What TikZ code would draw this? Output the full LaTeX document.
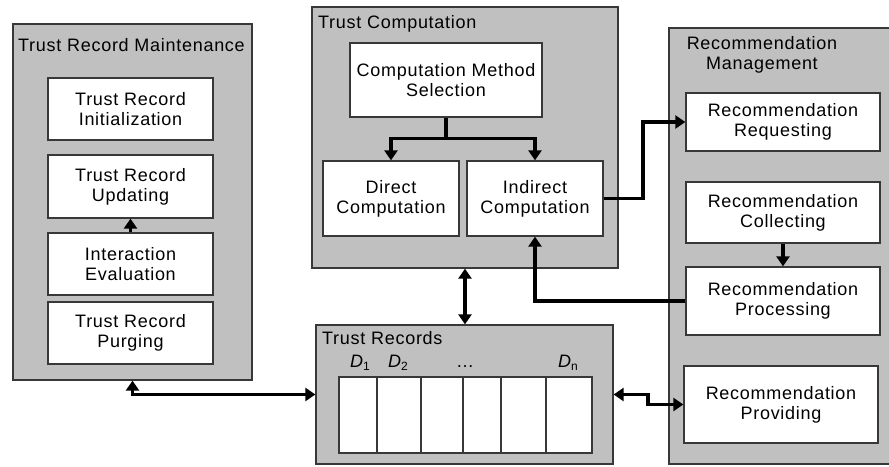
\documentclass[tikz,border=0pt]{standalone}
\usepackage{fontspec}
\setmainfont[LetterSpace=4]{Liberation Sans}
\usetikzlibrary{arrows.meta,calc}
\definecolor{panelgray}{HTML}{C0C0C0}
\definecolor{edgegray}{HTML}{383838}
\tikzset{
  panel/.style={draw=edgegray, fill=panelgray, line width=1.3pt, minimum width=#1, inner sep=0pt},
  inbox/.style={draw=edgegray, fill=white, line width=1.3pt, align=center, inner sep=0pt},
  ttl/.style={inner sep=0pt, anchor=base west},
  conn/.style={line width=3.4pt, line cap=butt, line join=miter},
  tip/.style={-{Triangle[length=10pt,width=13pt]}},
  dtip/.style={{Triangle[length=10pt,width=13pt]}-{Triangle[length=10pt,width=13pt]}},
  dlab/.style={inner sep=0pt, anchor=base},
}
\newcommand{\dsym}[1]{{\itshape D}\raisebox{-3pt}{\fontsize{12}{12}\selectfont #1}}
\begin{document}
\begin{tikzpicture}[x=1pt,y=-1pt, font=\fontsize{18}{20}\selectfont]
\useasboundingbox (0,0) rectangle (889,466);
\begin{scope}
\clip (0,0) rectangle (889,466);
% containers
\node[panel=239pt, minimum height=356pt] (LC) at (132.5,202) {};
\node[ttl] (LCt) at (18,51) {Trust Record Maintenance};
\node[panel=306pt, minimum height=261pt] (TC) at (465,137.5) {};
\node[ttl] (TCt) at (318,28) {Trust Computation};
\node[panel=228pt, minimum height=436pt] (RC) at (783,246) {};
\node[inner sep=0pt, align=center] (RCt) at (762,55) {Recommendation\\Management};
\node[panel=297pt, minimum height=139pt] (TR) at (464.5,394.5) {};
\node[ttl] (TRt) at (322,344) {Trust Records};
% left boxes
\node[inbox, minimum width=165pt, minimum height=62pt] (B1) at (130.5,109) {Trust Record\\Initialization};
\node[inbox, minimum width=165pt, minimum height=63pt] (B2) at (130.5,186.5) {Trust Record\\Updating};
\node[inbox, minimum width=165pt, minimum height=62pt] (B3) at (130.5,264) {Interaction\\Evaluation};
\node[inbox, minimum width=165pt, minimum height=62pt] (B4) at (130.5,333) {Trust Record\\Purging};
% computation boxes
\node[inbox, minimum width=192pt, minimum height=74pt] (CMS) at (446,80) {Computation Method\\Selection};
\node[inbox, minimum width=136pt, minimum height=75pt] (DC) at (391,198.5) {Direct\\Computation};
\node[inbox, minimum width=136pt, minimum height=75pt] (IC) at (535,198.5) {Indirect\\Computation};
% recommendation boxes
\node[inbox, minimum width=194pt, minimum height=58pt] (RReq) at (783,122) {Recommendation\\Requesting};
\node[inbox, minimum width=194pt, minimum height=61pt] (RCol) at (783,212.5) {Recommendation\\Collecting};
\node[inbox, minimum width=194pt, minimum height=68pt] (RProc) at (783,301) {Recommendation\\Processing};
\node[inbox, minimum width=194pt, minimum height=77pt] (RProv) at (781,404.5) {Recommendation\\Providing};
% trust records table
\node[inbox, minimum width=253pt, minimum height=76pt] (TAB) at (465.5,415) {};
\foreach \xx in {377,421,463,501,546}{
  \draw[draw=edgegray, line width=1.3pt] (\xx,{377}) -- (\xx,{453});
}
\node[dlab] (D1) at (360,367) {\dsym{1}};
\node[dlab] (D2) at (398,367) {\dsym{2}};
\node[dlab] (Dd) at (465,367) {\dots};
\node[dlab] (Dn) at (568,367) {\dsym{n}};
% connectors
\draw[conn, tip] (B3.north) -- (B2.south);
\coordinate (split) at ($(CMS.south)+(0,21)$);
\draw[conn] (CMS.south) -- (split);
\draw[conn, tip] (split) -| (DC.north);
\draw[conn, tip] (split) -| (IC.north);
\coordinate (r1) at (643,198.5);
\draw[conn, tip] (IC.east) -- (r1) |- (RReq.west);
\draw[conn, tip] (RCol.south) -- (RProc.north);
\draw[conn, tip] (RProc.west) -| (IC.south);
\draw[conn, dtip] (TC.south) -- (TC.south |- TR.north);
\draw[conn, dtip] (LC.south) |- (TR.west);
\coordinate (k1) at (648,394.5);
\coordinate (k2) at (648,404.5);
\draw[conn, dtip] (TR.east) -- (k1) -- (k2) -- (RProv.west);
\end{scope}
\end{tikzpicture}
\end{document}
